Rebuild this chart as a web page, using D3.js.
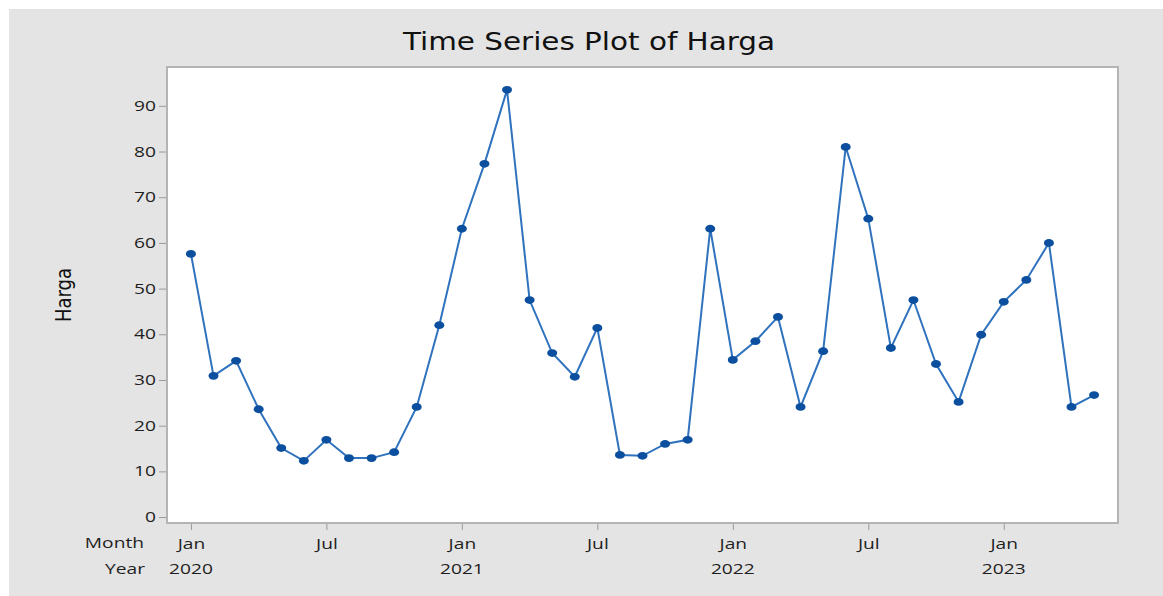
<!DOCTYPE html>
<html>
<head>
<meta charset="utf-8">
<script src="https://cdn.jsdelivr.net/npm/d3@7"></script>
<style>
  body { margin: 0; background: #fff; }
  svg { display: block; }
</style>
</head>
<body>
<div id="chart"></div>
<script>
// Harga bulanan, Jan 2020 - Mei 2023
const months = ['Jan', 'Feb', 'Mar', 'Apr', 'May', 'Jun', 'Jul', 'Aug', 'Sep', 'Oct', 'Nov', 'Dec']
const startYear = 2020
const harga = [
  57.6, 30.9, 34.2, 23.6, 15.1, 12.3, 16.9, 12.9, 12.9, 14.2, 24.1, 42.0,
  63.1, 77.3, 93.5, 47.5, 35.9, 30.7, 41.4, 13.6, 13.4, 16.0, 16.9, 63.1,
  34.4, 38.5, 43.8, 24.1, 36.3, 81.0, 65.3, 37.0, 47.5, 33.5, 25.2, 39.9,
  47.1, 51.9, 60.0, 24.1, 26.7
]
const yTicks = [0, 10, 20, 30, 40, 50, 60, 70, 80, 90]
const xTickIndex = [0, 6, 12, 18, 24, 30, 36]

const W = 1163
const H = 596
const frame = { left: 167, right: 1118, top: 67, bottom: 523 }
const sx = 1.37 // gambar asli agak melebar ke samping

const svg = d3.select('#chart').append('svg')
  .attr('width', W)
  .attr('height', H)

// latar abu-abu
svg.append('rect')
  .attr('x', 9).attr('y', 9)
  .attr('width', W - 9).attr('height', H - 9)
  .attr('fill', '#e4e4e4')

svg.append('rect')
  .attr('x', frame.left).attr('y', frame.top)
  .attr('width', frame.right - frame.left)
  .attr('height', frame.bottom - frame.top)
  .attr('fill', '#fff')
  .attr('stroke', '#b4b4b4')
  .attr('stroke-width', 2)

const x = d3.scaleLinear()
  .domain([-1.06, harga.length - 1 + 1.06])
  .range([frame.left, frame.right])

const y = d3.scaleLinear()
  .domain([-1.3, 98.5])
  .range([frame.bottom, frame.top])

const tickFont = 'Open Sans, "DejaVu Sans", sans-serif'

// sumbu Y
const yAxis = svg.append('g')
  .attr('transform', `translate(${frame.left - 1},0)`)
  .call(d3.axisLeft(y).tickValues(yTicks).tickSize(7).tickPadding(3))
yAxis.select('.domain').remove()
yAxis.selectAll('line').attr('stroke', '#9a9a9a')
yAxis.selectAll('text')
  .attr('x', -10 / sx)
  .attr('transform', `scale(${sx},1)`)
  .attr('fill', '#1e1e1e')
  .style('font-family', tickFont)
  .style('font-size', '14px')

// sumbu X
const xAxis = svg.append('g')
  .attr('transform', `translate(0,${frame.bottom + 1})`)
  .call(d3.axisBottom(x)
    .tickValues(xTickIndex)
    .tickSize(6)
    .tickPadding(9)
    .tickFormat(i => months[i % 12]))
xAxis.select('.domain').remove()
xAxis.selectAll('line').attr('stroke', '#9a9a9a')
xAxis.selectAll('text')
  .attr('transform', `scale(${sx},1)`)
  .attr('fill', '#1e1e1e')
  .style('font-family', tickFont)
  .style('font-size', '14px')

// label tahun
svg.append('g')
  .selectAll('text')
  .data(xTickIndex.filter(i => i % 12 === 0))
  .join('text')
  .attr('transform', i => `translate(${x(i)},574) scale(${sx},1)`)
  .attr('text-anchor', 'middle')
  .attr('fill', '#1e1e1e')
  .style('font-family', tickFont)
  .style('font-size', '14px')
  .text(i => startYear + i / 12)

svg.append('text')
  .attr('transform', `translate(144,548) scale(${sx},1)`)
  .attr('text-anchor', 'end')
  .attr('fill', '#1e1e1e')
  .style('font-family', tickFont)
  .style('font-size', '14px')
  .text('Month')

svg.append('text')
  .attr('transform', `translate(145,574) scale(${sx},1)`)
  .attr('text-anchor', 'end')
  .attr('fill', '#1e1e1e')
  .style('font-family', tickFont)
  .style('font-size', '14px')
  .text('Year')

// judul
svg.append('text')
  .attr('x', 589)
  .attr('y', 50)
  .attr('text-anchor', 'middle')
  .attr('textLength', 372)
  .attr('lengthAdjust', 'spacingAndGlyphs')
  .attr('fill', '#111')
  .style('font-family', '"DejaVu Sans Condensed", sans-serif')
  .style('font-size', '25px')
  .text('Time Series Plot of Harga')

svg.append('text')
  .attr('transform', `translate(71,295) scale(1.15,1) rotate(-90)`)
  .attr('text-anchor', 'middle')
  .attr('textLength', 54)
  .attr('lengthAdjust', 'spacingAndGlyphs')
  .attr('fill', '#111')
  .style('font-family', '"DejaVu Sans Condensed", sans-serif')
  .style('font-size', '18px')
  .text('Harga')

// garis dan titik
const line = d3.line()
  .x((d, i) => x(i))
  .y(d => y(d))

svg.append('path')
  .datum(harga)
  .attr('fill', 'none')
  .attr('stroke', '#2f72bd')
  .attr('stroke-width', 2)
  .attr('d', line)

svg.append('g')
  .selectAll('ellipse')
  .data(harga)
  .join('ellipse')
  .attr('cx', (d, i) => x(i))
  .attr('cy', d => y(d))
  .attr('rx', 5)
  .attr('ry', 3.9)
  .attr('fill', '#0b4f9e')
</script>
</body>
</html>
